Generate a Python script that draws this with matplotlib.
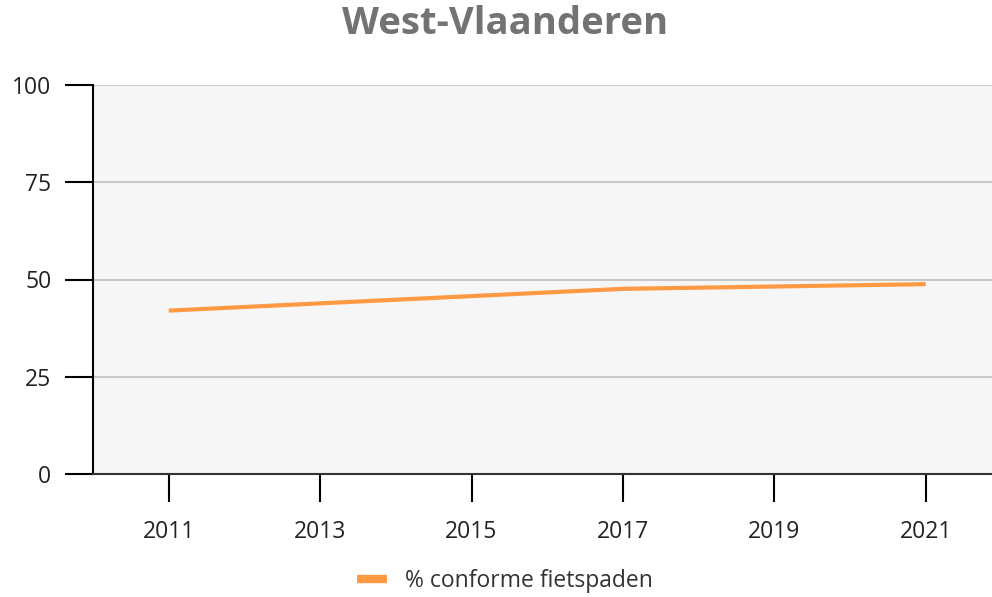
import matplotlib as mpl
import matplotlib.pyplot as plt

mpl.rcParams['font.family'] = ['Open Sans', 'DejaVu Sans']

# data
jaren = [2011, 2017, 2021]
conform = [42.0, 47.6, 48.8]
xticks = [2011, 2013, 2015, 2017, 2019, 2021]
yticks = [0, 25, 50, 75, 100]

fig = plt.figure(figsize=(9.92, 5.97), dpi=100)
ax = fig.add_axes([93 / 992, 1 - 474 / 597, 1 - 93 / 992, (474 - 85) / 597])
ax.set_facecolor('#f6f6f6')

ax.plot(jaren, conform, color='#ff9944', lw=3, solid_capstyle='butt',
        label='% conforme fietspaden', zorder=3)

ax.set_xlim(2010, 2010 + (992 - 93) / 75.7)
ax.set_ylim(0, 100)
ax.set_xticks(xticks)
ax.set_yticks(yticks)
ax.grid(axis='y', color='#c8c8c8', lw=1.5)
ax.set_axisbelow(True)

for s in ['top', 'right']:
    ax.spines[s].set_visible(False)
ax.spines['left'].set_linewidth(1.5)
ax.spines['bottom'].set_linewidth(1.5)
ax.spines['bottom'].set_color('#333333')
ax.tick_params(axis='both', length=20, width=1.5, labelsize=16.5,
               labelcolor='#222222')
ax.tick_params(axis='y', pad=10)
ax.tick_params(axis='x', pad=13)

fig.text(505 / 992, 1 - 34 / 597, 'West-Vlaanderen', ha='center', va='baseline',
         fontsize=27.5, fontweight='bold', color='#737373')

leg = fig.legend(loc='center', bbox_to_anchor=(505 / 992, 1 - 581 / 597),
                 frameon=False, fontsize=16.5, handlelength=1.3,
                 handletextpad=0.8)
for h in leg.get_lines():
    h.set_linewidth(6)
for t in leg.get_texts():
    t.set_color('#333333')

fig.savefig('out.png', dpi=100)
